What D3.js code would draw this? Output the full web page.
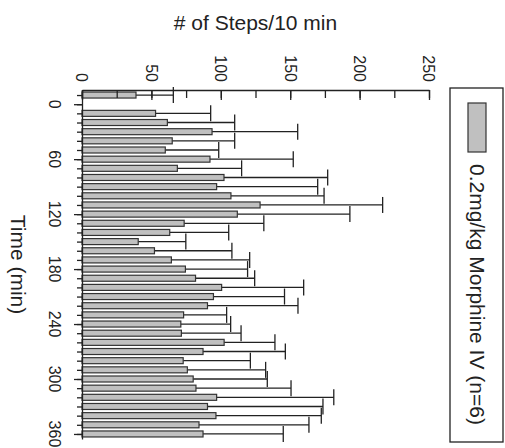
<!DOCTYPE html>
<html>
<head>
<meta charset="utf-8">
<script src="https://cdn.jsdelivr.net/npm/d3@7"></script>
<style>
  body { margin: 0; background: #fff; }
  svg { display: block; font-family: "Liberation Sans", Arial, sans-serif; }
</style>
</head>
<body>
<svg class="chart" width="505" height="448"></svg>
<script>
/*
      Data
*/
const times = [-10, 10, 20, 30, 40, 50, 60, 70, 80, 90, 100, 110, 120, 130, 140, 150, 160, 170, 180,
  190, 200, 210, 220, 230, 240, 250, 260, 270, 280, 290, 300, 310, 320, 330, 340, 350, 360];
const steps = [38.9, 53, 61.5, 93.7, 65, 60, 92.2, 68.7, 102.3, 97, 107.3, 128.3, 111.9, 73.6, 63.2,
  40.5, 52.2, 64.4, 74.5, 81.8, 100.6, 94.7, 90.4, 73.2, 71.2, 71.6, 102.4, 87.2, 72.9, 75.9, 80.1,
  82.1, 97, 90.4, 96.5, 84.3, 87.2];
const sem = [26.9, 39.7, 48.5, 61.7, 45, 38.5, 60, 46.3, 74.7, 72.8, 67.1, 88.3, 81.1, 57.4, 42.5,
  34.3, 55.8, 56.4, 44.8, 42.6, 59.1, 51.2, 65.2, 31, 35.9, 43, 36.6, 59.3, 48.4, 56.4, 53.4,
  68.5, 84.4, 83.2, 75.9, 79.2, 57.8];
const valueTicks = [0, 50, 100, 150, 200, 250];
const valueMinorTicks = [0, 25, 50, 75, 100, 125, 150, 175, 200, 225, 250];
const timeTicks = [0, 60, 120, 180, 240, 300, 360];
const timeMinorTicks = d3.range(-10, 361, 10);
const legendLabel = "0.2mg/kg Morphine IV (n=6)";

const rows = times.map((t, i) => ({ time: t, value: steps[i], err: sem[i] }));

const svg = d3.select(".chart");
const ink = "#222";

// value runs left -> right, time runs top -> bottom
const x = d3.scaleLinear().domain([0, 250]).range([82, 429]);
const y = d3.scaleLinear().domain([-15.5, 365.5]).range([90, 439]);

/*
      Bars + error bars
*/
const barH = 6;
const capH = 8;

const bars = svg.append("g");
bars
  .selectAll("line.err")
  .data(rows)
  .join("line")
  .attr("class", "err")
  .attr("x1", (d) => x(d.value))
  .attr("x2", (d) => x(d.value + d.err))
  .attr("y1", (d) => y(d.time))
  .attr("y2", (d) => y(d.time))
  .attr("stroke", ink)
  .attr("stroke-width", 1.3);

bars
  .selectAll("line.cap")
  .data(rows)
  .join("line")
  .attr("class", "cap")
  .attr("x1", (d) => x(d.value + d.err))
  .attr("x2", (d) => x(d.value + d.err))
  .attr("y1", (d) => y(d.time) - capH)
  .attr("y2", (d) => y(d.time) + capH)
  .attr("stroke", ink)
  .attr("stroke-width", 1.3);

bars
  .selectAll("rect")
  .data(rows)
  .join("rect")
  .attr("x", x(0))
  .attr("y", (d) => y(d.time) - barH / 2)
  .attr("width", (d) => x(d.value) - x(0))
  .attr("height", barH)
  .attr("fill", "#c0c0c0")
  .attr("stroke", "#333")
  .attr("stroke-width", 1.2);

/*
      Axes
*/
function styleAxis(g) {
  g.selectAll("path, line").attr("stroke", ink).attr("stroke-width", 1.3);
  g.selectAll("text").remove();
}

svg
  .append("g")
  .attr("transform", `translate(0,${y.range()[0]})`)
  .call(d3.axisBottom(x).tickValues(valueMinorTicks).tickSize(8).tickSizeOuter(0).tickFormat(""))
  .call(styleAxis);
svg
  .append("g")
  .attr("transform", `translate(0,${y.range()[0]})`)
  .call(d3.axisBottom(x).tickValues(valueTicks).tickSize(10).tickSizeOuter(0).tickFormat(""))
  .call(styleAxis)
  .call((g) => g.select(".domain").remove());

svg
  .append("g")
  .attr("transform", `translate(${x.range()[0]},0)`)
  .call(d3.axisLeft(y).tickValues(timeMinorTicks).tickSize(5).tickSizeOuter(0).tickFormat(""))
  .call(styleAxis);
svg
  .append("g")
  .attr("transform", `translate(${x.range()[0]},0)`)
  .call(d3.axisLeft(y).tickValues(timeTicks).tickSize(8).tickSizeOuter(0).tickFormat(""))
  .call(styleAxis)
  .call((g) => g.select(".domain").remove());

// rotated tick labels
svg
  .append("g")
  .selectAll("text")
  .data(valueTicks)
  .join("text")
  .attr("transform", (d) => `translate(${x(d)},82) rotate(90)`)
  .attr("dy", "0.35em")
  .attr("text-anchor", "end")
  .attr("font-size", 16)
  .attr("fill", ink)
  .text((d) => d);

svg
  .append("g")
  .selectAll("text")
  .data(timeTicks)
  .join("text")
  .attr("transform", (d) => `translate(55,${y(d)}) rotate(90)`)
  .attr("dy", "0.35em")
  .attr("text-anchor", "middle")
  .attr("font-size", 16)
  .attr("fill", ink)
  .text((d) => d);

/*
      Titles
*/
svg
  .append("text")
  .attr("x", (x.range()[0] + x.range()[1]) / 2)
  .attr("y", 30)
  .attr("text-anchor", "middle")
  .attr("font-size", 21)
  .attr("fill", ink)
  .text("# of Steps/10 min");

svg
  .append("text")
  .attr("transform", `translate(18,${(y.range()[0] + y.range()[1]) / 2}) rotate(90)`)
  .attr("dy", "0.35em")
  .attr("text-anchor", "middle")
  .attr("font-size", 21)
  .attr("fill", ink)
  .text("Time (min)");

/*
      Legend
*/
const legend = svg.append("g");
legend
  .append("rect")
  .attr("x", 450)
  .attr("y", 88)
  .attr("width", 53)
  .attr("height", 354)
  .attr("fill", "none")
  .attr("stroke", ink)
  .attr("stroke-width", 1.3);
legend
  .append("rect")
  .attr("x", 468)
  .attr("y", 103)
  .attr("width", 18)
  .attr("height", 49)
  .attr("fill", "#c0c0c0")
  .attr("stroke", "#333")
  .attr("stroke-width", 1.2);
legend
  .append("text")
  .attr("transform", "translate(477,164) rotate(90)")
  .attr("dy", "0.35em")
  .attr("font-size", 21)
  .attr("fill", ink)
  .text(legendLabel);
</script>
</body>
</html>
